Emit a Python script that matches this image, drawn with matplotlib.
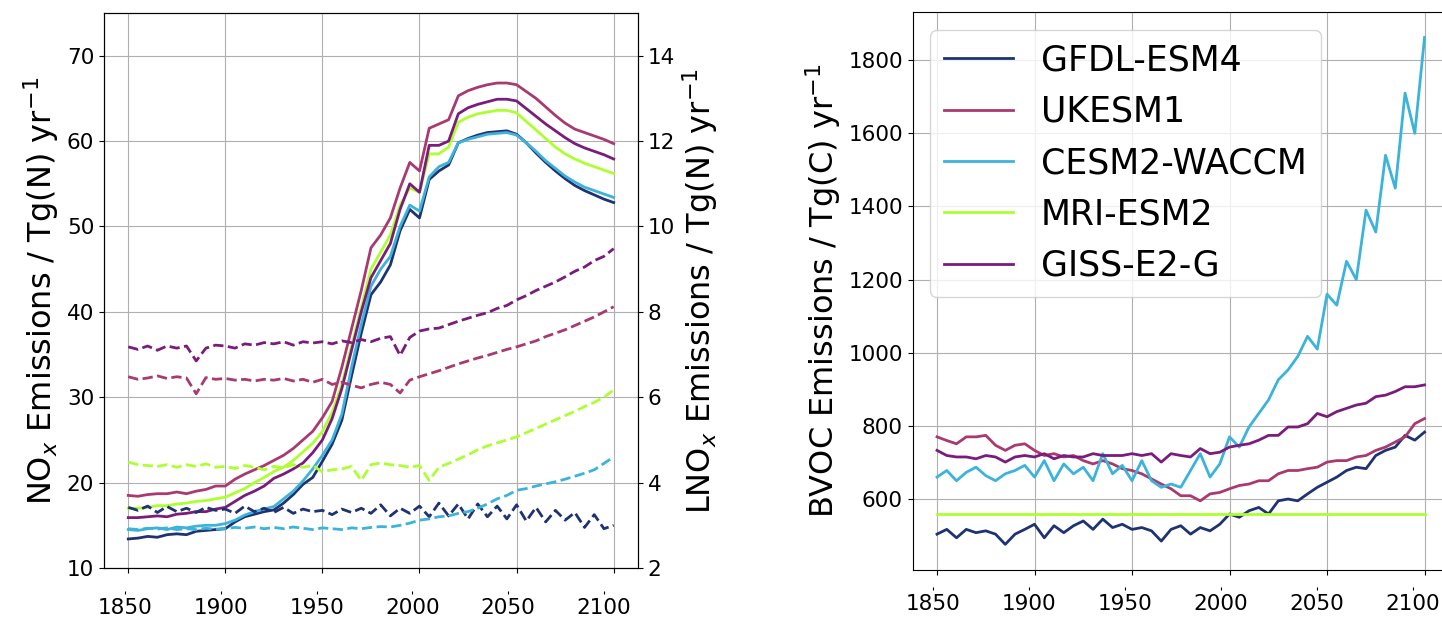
"""NOx / LNOx and BVOC emissions from five ESMs, 1850-2100."""

import matplotlib
matplotlib.use("Agg")
import matplotlib.pyplot as plt
import numpy as np

# ── Data (5-year samples) ──────────────────────────────────────────────────────
years = np.arange(1850, 2101, 5)
tick_years = [1850, 1900, 1950, 2000, 2050, 2100]

models = ["GFDL-ESM4", "UKESM1", "CESM2-WACCM", "MRI-ESM2", "GISS-E2-G"]
colors = ["#1f3372", "#a83a70", "#3cb3da", "#adff2f", "#791c7b"]

# total NOx emissions, Tg(N) / yr (left axis)
nox_gfdl = [13.4, 13.5, 13.7, 13.6, 13.9, 14.0, 13.9, 14.3, 14.4, 14.5, 14.6,
            15.4, 16.0, 16.3, 16.6, 16.8, 17.6, 18.6, 19.8, 20.6, 22.5, 24.5,
            27.3, 32.5, 37.5, 42.0, 43.5, 45.5, 49.5, 52.0, 51.0, 55.5, 56.5,
            57.2, 59.8, 60.3, 60.7, 61.0, 61.1, 61.2, 60.8, 59.8, 58.6, 57.5,
            56.5, 55.6, 54.8, 54.2, 53.7, 53.2, 52.8]
nox_ukesm = [18.5, 18.4, 18.6, 18.7, 18.7, 18.9, 18.7, 19.0, 19.2, 19.6, 19.6,
             20.4, 21.0, 21.5, 22.0, 22.6, 23.2, 24.0, 25.0, 26.0, 27.6, 29.5,
             33.5, 38.0, 42.5, 47.5, 49.0, 51.0, 54.5, 57.5, 56.5, 61.5, 62.0,
             62.5, 65.3, 65.9, 66.3, 66.6, 66.8, 66.8, 66.6, 65.8, 65.0, 64.0,
             63.0, 62.1, 61.4, 61.0, 60.6, 60.2, 59.7]
nox_cesm = [14.5, 14.4, 14.6, 14.7, 14.5, 14.8, 14.7, 14.9, 15.0, 15.0, 15.2,
            15.6, 16.2, 16.6, 16.9, 17.2, 18.1, 19.0, 20.2, 21.6, 23.2, 25.0,
            28.0, 33.5, 38.5, 43.0, 45.0, 46.5, 50.0, 52.5, 51.8, 55.8, 57.0,
            57.5, 59.8, 60.2, 60.5, 60.8, 60.9, 61.0, 60.7, 59.8, 58.8, 57.7,
            56.8, 55.9, 55.2, 54.6, 54.2, 53.8, 53.4]
nox_mri = [17.0, 17.0, 17.1, 17.3, 17.3, 17.5, 17.6, 17.8, 17.9, 18.1, 18.3,
           18.8, 19.3, 20.0, 20.6, 21.3, 21.8, 22.6, 23.6, 24.6, 26.0, 28.2,
           31.5, 36.0, 40.5, 45.0, 47.0, 49.0, 52.5, 54.5, 54.0, 58.5, 58.5,
           59.3, 62.2, 62.8, 63.2, 63.4, 63.6, 63.6, 63.3, 62.3, 61.3, 60.3,
           59.3, 58.5, 57.9, 57.4, 57.0, 56.6, 56.2]
nox_giss = [15.9, 15.9, 16.0, 16.1, 16.0, 16.3, 16.4, 16.6, 16.6, 16.9, 17.1,
            17.8, 18.5, 19.0, 19.6, 20.5, 21.0, 21.6, 22.3, 23.5, 25.0, 27.5,
            31.0, 35.5, 40.0, 44.0, 46.0, 48.0, 52.0, 55.0, 54.0, 59.5, 59.5,
            60.0, 63.2, 63.9, 64.3, 64.6, 64.9, 64.9, 64.7, 63.8, 62.9, 62.0,
            61.2, 60.4, 59.7, 59.2, 58.8, 58.4, 57.9]

# lightning NOx emissions, Tg(N) / yr (right axis, dashed)
lnox_gfdl = [3.42, 3.35, 3.45, 3.30, 3.44, 3.32, 3.40, 3.30, 3.42, 3.35, 3.38,
             3.28, 3.45, 3.32, 3.40, 3.30, 3.42, 3.28, 3.38, 3.32, 3.35, 3.25,
             3.38, 3.30, 3.40, 3.28, 3.48, 3.22, 3.40, 3.28, 3.45, 3.20, 3.52,
             3.22, 3.50, 3.15, 3.50, 3.20, 3.45, 3.15, 3.48, 3.10, 3.42, 3.08,
             3.35, 3.12, 3.30, 2.95, 3.25, 2.92, 3.00]
lnox_ukesm = [6.48, 6.42, 6.45, 6.50, 6.44, 6.48, 6.45, 6.08, 6.46, 6.42, 6.44,
              6.40, 6.42, 6.38, 6.42, 6.40, 6.44, 6.38, 6.42, 6.35, 6.42, 6.30,
              6.35, 6.28, 6.22, 6.30, 6.35, 6.30, 6.10, 6.40, 6.48, 6.55, 6.62,
              6.70, 6.78, 6.85, 6.92, 6.98, 7.05, 7.12, 7.18, 7.25, 7.32, 7.42,
              7.50, 7.58, 7.68, 7.78, 7.88, 8.00, 8.12]
lnox_cesm = [2.92, 2.90, 2.93, 2.91, 2.94, 2.90, 2.92, 2.90, 2.93, 2.91, 2.92,
             2.95, 2.93, 2.96, 2.92, 2.95, 2.92, 2.96, 2.93, 2.90, 2.94, 2.92,
             2.90, 2.94, 2.92, 2.95, 2.97, 2.96, 3.00, 3.05, 3.12, 3.15, 3.20,
             3.22, 3.28, 3.32, 3.40, 3.50, 3.62, 3.70, 3.82, 3.86, 3.92, 3.97,
             4.02, 4.08, 4.15, 4.22, 4.30, 4.45, 4.60]
lnox_mri = [4.48, 4.42, 4.40, 4.38, 4.42, 4.36, 4.42, 4.38, 4.44, 4.36, 4.38,
            4.33, 4.40, 4.36, 4.30, 4.38, 4.35, 4.42, 4.36, 4.40, 4.25, 4.30,
            4.32, 4.38, 4.05, 4.42, 4.46, 4.42, 4.40, 4.36, 4.40, 4.05, 4.36,
            4.45, 4.55, 4.65, 4.77, 4.86, 4.93, 5.00, 5.07, 5.17, 5.27, 5.37,
            5.47, 5.57, 5.67, 5.78, 5.88, 6.00, 6.17]
lnox_giss = [7.18, 7.12, 7.20, 7.10, 7.20, 7.15, 7.20, 6.85, 7.15, 7.22, 7.20,
             7.15, 7.25, 7.22, 7.28, 7.25, 7.30, 7.22, 7.30, 7.27, 7.30, 7.25,
             7.32, 7.28, 7.35, 7.30, 7.38, 7.42, 6.98, 7.40, 7.55, 7.60, 7.62,
             7.70, 7.78, 7.85, 7.92, 7.98, 8.08, 8.15, 8.28, 8.38, 8.50, 8.60,
             8.70, 8.82, 8.95, 9.05, 9.20, 9.30, 9.48]

# biogenic VOC emissions, Tg(C) / yr
bvoc_gfdl = [504, 517, 494, 517, 508, 513, 504, 476, 504, 517, 531, 494, 527,
             508, 527, 540, 517, 545, 522, 531, 517, 522, 513, 485, 517, 527,
             504, 522, 513, 531, 559, 550, 568, 577, 559, 595, 600, 595, 614,
             632, 646, 660, 678, 687, 683, 719, 733, 742, 774, 761, 783]
bvoc_ukesm = [770, 760, 751, 770, 770, 774, 747, 733, 747, 751, 733, 719, 724,
              715, 719, 705, 696, 705, 696, 683, 678, 669, 655, 641, 628, 609,
              609, 595, 614, 618, 628, 637, 641, 650, 650, 669, 678, 678, 683,
              687, 701, 705, 705, 715, 719, 733, 742, 756, 770, 806, 820]
bvoc_cesm = [660, 678, 650, 673, 687, 664, 650, 669, 678, 692, 660, 705, 650,
             696, 669, 687, 650, 724, 669, 692, 650, 705, 650, 632, 641, 632,
             678, 724, 660, 696, 770, 742, 797, 834, 871, 926, 953, 990, 1045,
             1010, 1160, 1130, 1250, 1200, 1390, 1330, 1540, 1450, 1710, 1600,
             1862]
bvoc_mri = [560] * len(years)
bvoc_giss = [733, 719, 715, 715, 710, 719, 715, 701, 715, 719, 715, 724, 710,
             719, 715, 715, 724, 719, 719, 719, 724, 719, 724, 701, 724, 719,
             715, 738, 724, 728, 742, 747, 751, 761, 774, 774, 797, 797, 806,
             834, 825, 839, 848, 857, 862, 880, 884, 894, 907, 907, 912]

nox = [nox_gfdl, nox_ukesm, nox_cesm, nox_mri, nox_giss]
lnox = [lnox_gfdl, lnox_ukesm, lnox_cesm, lnox_mri, lnox_giss]
bvoc = [bvoc_gfdl, bvoc_ukesm, bvoc_cesm, bvoc_mri, bvoc_giss]

TICK_FS = 15.5
LABEL_FS = 23
LEGEND_FS = 25
LW = 2.0


def _shifted_year_labels(ax, offset, scale, loc):
    """Year labels drawn on a slightly offset secondary axis (as in the original)."""
    ax.tick_params(axis="x", labelbottom=False)
    sec = ax.secondary_xaxis(
        loc,
        functions=(lambda x: 1850 + (x - offset) / scale,
                   lambda y: offset + (y - 1850) * scale),
    )
    for sp in sec.spines.values():
        sp.set_visible(False)
    sec.set_xticks(tick_years)
    sec.set_xticklabels([str(y) for y in tick_years])
    sec.tick_params(labelsize=TICK_FS, length=2.5, pad=2.5)
    return sec


# ── Figure ─────────────────────────────────────────────────────────────────────
fig = plt.figure(figsize=(14.42, 6.19), dpi=100)
ax = fig.add_axes([0.0721, 0.0824, 0.3703, 0.8966])
axr = fig.add_axes([0.6329, 0.0792, 0.3719, 0.9010])

# ── Left: NOx (solid) + lightning NOx (dashed, twin axis) ──────────────────────
for vals, c in zip(nox, colors):
    ax.plot(years, vals, color=c, linewidth=LW)
ax.set_ylim(10, 75)
ax.set_yticks([10, 20, 30, 40, 50, 60, 70])
ax.set_xticks(tick_years)
ax.grid(True)
ax.set_ylabel(r"NO$_x$ Emissions / Tg(N) yr$^{-1}$", fontsize=LABEL_FS)
ax.tick_params(labelsize=TICK_FS)

ax2 = ax.twinx()
for vals, c in zip(lnox, colors):
    ax2.plot(years, vals, color=c, linewidth=LW, linestyle="--")
ax2.set_ylim(2, 15)
ax2.set_yticks([2, 4, 6, 8, 10, 12, 14])
ax2.set_ylabel(r"LNO$_x$ Emissions / Tg(N) yr$^{-1}$", fontsize=LABEL_FS)
ax2.tick_params(labelsize=TICK_FS)

_shifted_year_labels(ax, 1848.45, 0.9855, -0.0414)

# ── Right: BVOC ────────────────────────────────────────────────────────────────
for vals, c, name in zip(bvoc, colors, models):
    axr.plot(years, vals, color=c, linewidth=LW, label=name)
axr.set_ylim(406, 1931)
axr.set_xticks(tick_years)
axr.grid(True)
axr.set_ylabel(r"BVOC Emissions / Tg(C) yr$^{-1}$", fontsize=LABEL_FS)
axr.tick_params(labelsize=TICK_FS)
axr.legend(loc="upper left", fontsize=LEGEND_FS)

_shifted_year_labels(axr, 1848.1, 0.983, -0.0305)

fig.savefig("out.png", dpi=100)
